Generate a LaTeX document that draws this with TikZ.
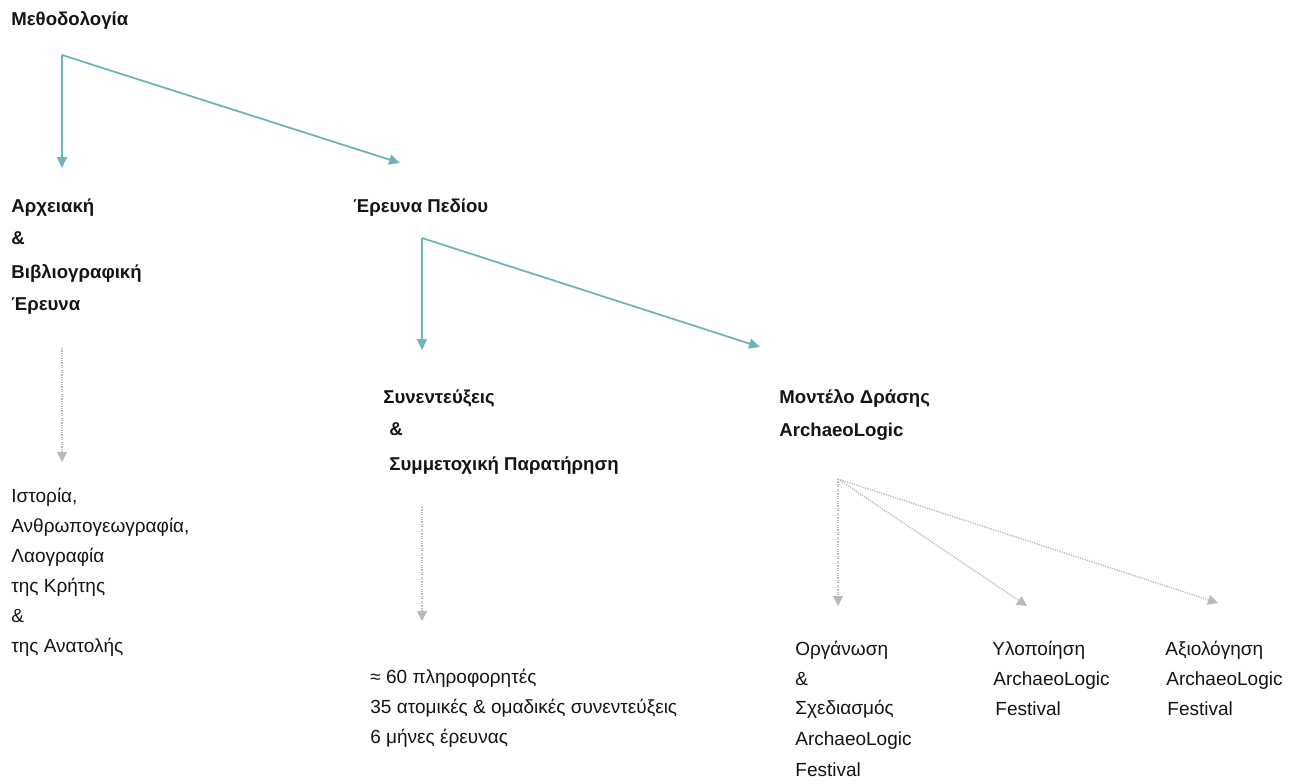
\documentclass[tikz,border=0pt]{standalone}
\usepackage{fontspec}
\setmainfont{Liberation Sans}
\usetikzlibrary{arrows.meta}
\definecolor{tealline}{RGB}{112,179,189}
\definecolor{dotgray}{RGB}{185,185,185}
\definecolor{ink}{RGB}{20,20,20}
\begin{document}
\begin{tikzpicture}[x=0.5pt, y=-0.5pt,
  every node/.style={inner sep=0pt, anchor=base west, text=ink},
  txt/.style={font=\fontsize{9.5}{11}\selectfont},
  hdr/.style={font=\fontsize{9.3}{11}\selectfont\bfseries},
  link/.style={draw=tealline, line width=0.9pt, -{Triangle[length=5.5pt,width=5pt,fill=tealline]}},
  dlink/.style={draw=dotgray, line width=0.7pt, dash pattern=on 0.6pt off 0.6pt, -{Triangle[length=5pt,width=5pt,fill=dotgray]}}]
\useasboundingbox (0,0) rectangle (1297,783);
% headers
\node[hdr] (meth) at (11,25) {Μεθοδολογία};
\node[hdr] (arx1) at (11,212) {Αρχειακή};
\node[hdr] (arx2) at (11,244) {\&};
\node[hdr] (arx3) at (11,278) {Βιβλιογραφική};
\node[hdr] (arx4) at (11,310) {Έρευνα};
\node[hdr] (ped) at (353,212) {Έρευνα Πεδίου};
\node[hdr] (syn1) at (383,403) {Συνεντεύξεις};
\node[hdr] (syn2) at (389,435) {\&};
\node[hdr] (syn3) at (389,470) {Συμμετοχική Παρατήρηση};
\node[hdr] (mod1) at (779,403) {Μοντέλο Δράσης};
\node[hdr] (mod2) at (779,436) {ArchaeoLogic};
% plain texts
\node[txt] (ist1) at (11,502) {Ιστορία,};
\node[txt] (ist2) at (11,532) {Ανθρωπογεωγραφία,};
\node[txt] (ist3) at (11,562) {Λαογραφία};
\node[txt] (ist4) at (11,592) {της Κρήτης};
\node[txt] (ist5) at (11,622) {\&};
\node[txt] (ist6) at (11,652) {της Ανατολής};
\node[txt] (inf1) at (370,683) {≈ 60 πληροφορητές};
\node[txt] (inf2) at (370,713) {35 ατομικές \& ομαδικές συνεντεύξεις};
\node[txt] (inf3) at (370,743) {6 μήνες έρευνας};
\node[txt] (org1) at (795,655) {Οργάνωση};
\node[txt] (org2) at (795,685) {\&};
\node[txt] (org3) at (795,714) {Σχεδιασμός};
\node[txt] (org4) at (795,745) {ArchaeoLogic};
\node[txt] (org5) at (795,776) {Festival};
\node[txt] (ylo1) at (992,655) {Υλοποίηση};
\node[txt] (ylo2) at (993,685) {ArchaeoLogic};
\node[txt] (ylo3) at (995,715) {Festival};
\node[txt] (axi1) at (1165,655) {Αξιολόγηση};
\node[txt] (axi2) at (1166,685) {ArchaeoLogic};
\node[txt] (axi3) at (1167,715) {Festival};
% connector points
\coordinate (c1) at (62,55);
\coordinate (t1a) at (62,168);
\coordinate (t1b) at (400,163);
\coordinate (c2) at (422,238);
\coordinate (t2a) at (422,350);
\coordinate (t2b) at (760,347);
\coordinate (d1s) at (62,348);
\coordinate (d1t) at (62,462);
\coordinate (d2s) at (422,507);
\coordinate (d2t) at (422,621);
\coordinate (c3) at (838,479);
\coordinate (t3a) at (838,606);
\coordinate (t3b) at (1027,606);
\coordinate (t3c) at (1218,603);
% connectors
\draw[link] (c1) -- (t1a);
\draw[link] (c1) -- (t1b);
\draw[link] (c2) -- (t2a);
\draw[link] (c2) -- (t2b);
\draw[dlink] (d1s) -- (d1t);
\draw[dlink] (d2s) -- (d2t);
\draw[dlink] (c3) -- (t3a);
\draw[dlink] (c3) -- (t3b);
\draw[dlink] (c3) -- (t3c);
\end{tikzpicture}
\end{document}
